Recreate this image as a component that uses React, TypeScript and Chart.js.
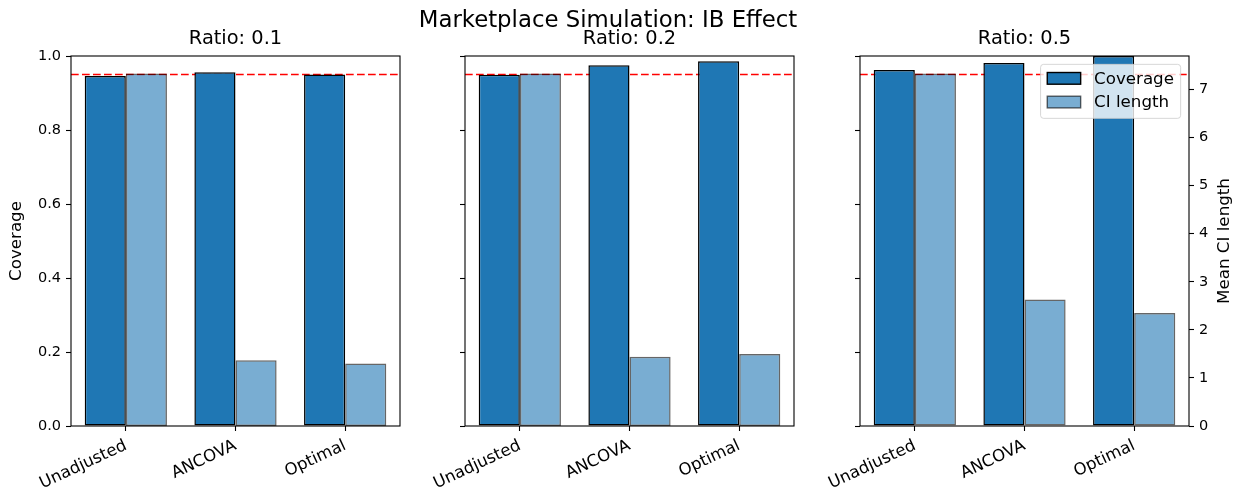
import React, { useEffect, useRef } from 'react';
import { Chart, registerables } from 'chart.js';

Chart.register(...registerables);

// ---------- data ----------
const categories = ['Unadjusted', 'ANCOVA', 'Optimal'];
const seriesNames = ['Coverage', 'CI length'];
const panelTitles = ['Ratio: 0.1', 'Ratio: 0.2', 'Ratio: 0.5'];
const coverageRatio01 = [0.946, 0.956, 0.950];
const coverageRatio02 = [0.949, 0.975, 0.986];
const coverageRatio05 = [0.962, 0.981, 1.0];
const ciLengthRatio01 = [7.33, 1.37, 1.30];
const ciLengthRatio02 = [7.33, 1.44, 1.50];
const ciLengthRatio05 = [7.33, 2.63, 2.35];
const nominalCoverage = 0.95;
const figureTitle = 'Marketplace Simulation: IB Effect';
const leftAxisTitle = 'Coverage';
const rightAxisTitle = 'Mean CI length';

// ---------- layout / style ----------
const W = 1236;
const H = 488;
const PLOT_TOP = 56;
const PLOT_BOTTOM = 426;
const FAMILY = "'DejaVu Sans', sans-serif";
const BLUE = '#1f77b4';
const BLUE_A = 'rgba(31,119,180,0.6)';
const EDGE_A = 'rgba(0,0,0,0.6)';

const ciMax = Math.max(...ciLengthRatio01, ...ciLengthRatio02, ...ciLengthRatio05) * 1.05;

const panels = [
  { left: 71, right: 400, coverage: coverageRatio01, ci: ciLengthRatio01, title: panelTitles[0], leftLabels: true, rightAxis: false, legend: false, suptitle: false },
  { left: 465, right: 794, coverage: coverageRatio02, ci: ciLengthRatio02, title: panelTitles[1], leftLabels: false, rightAxis: false, legend: false, suptitle: true },
  { left: 860, right: 1189, coverage: coverageRatio05, ci: ciLengthRatio05, title: panelTitles[2], leftLabels: false, rightAxis: true, legend: true, suptitle: false },
];

const decor = {
  id: 'decor',
  beforeDatasetsDraw(chart: any, _a: any, o: any) {
    const { ctx, chartArea: ca, scales } = chart;
    const y = scales.y.getPixelForValue(o.refValue);
    ctx.save();
    ctx.beginPath();
    ctx.setLineDash([7.7, 3.3]);
    ctx.strokeStyle = '#ff0000';
    ctx.lineWidth = 1.5;
    ctx.moveTo(ca.left, y);
    ctx.lineTo(ca.right, y);
    ctx.stroke();
    ctx.restore();
  },
  afterDraw(chart: any, _a: any, o: any) {
    const { ctx, chartArea: ca } = chart;
    ctx.save();
    // frame
    ctx.strokeStyle = '#000';
    ctx.lineWidth = 1.1;
    ctx.strokeRect(ca.left, ca.top, ca.right - ca.left, ca.bottom - ca.top);
    ctx.fillStyle = '#000';
    // panel title
    ctx.font = `19.4px ${FAMILY}`;
    ctx.textAlign = 'center';
    ctx.textBaseline = 'alphabetic';
    ctx.fillText(o.title, (ca.left + ca.right) / 2, 44);
    if (o.suptitle) {
      ctx.font = `22.8px ${FAMILY}`;
      ctx.fillText(o.suptitleText, 608, 27);
    }
    const midY = (ca.top + ca.bottom) / 2;
    ctx.font = `16.7px ${FAMILY}`;
    ctx.textBaseline = 'middle';
    if (o.leftTitle) {
      ctx.save();
      ctx.translate(17, midY);
      ctx.rotate(-Math.PI / 2);
      ctx.fillText(o.leftTitle, 0, 0);
      ctx.restore();
    }
    if (o.rightTitle) {
      ctx.save();
      ctx.translate(1225, midY);
      ctx.rotate(-Math.PI / 2);
      ctx.fillText(o.rightTitle, 0, 0);
      ctx.restore();
    }
    if (o.legend) {
      const fs = 16.7;
      ctx.font = `${fs}px ${FAMILY}`;
      const ds = chart.data.datasets;
      const tw = Math.max(...ds.map((d: any) => ctx.measureText(d.label).width));
      const pad = 0.4 * fs;
      const hl = 2 * fs;
      const htp = 0.8 * fs;
      const bw = pad + hl + htp + tw + pad;
      const rowH = 23.7;
      const bh = 54;
      const bx = ca.right - 0.5 * fs - bw;
      const by = ca.top + 0.5 * fs;
      ctx.beginPath();
      ctx.roundRect(bx, by, bw, bh, 3);
      ctx.fillStyle = 'rgba(255,255,255,0.8)';
      ctx.fill();
      ctx.strokeStyle = 'rgba(204,204,204,0.8)';
      ctx.lineWidth = 1;
      ctx.stroke();
      ds.forEach((d: any, i: number) => {
        const cy = by + 14 + i * rowH;
        const ph = 0.7 * fs;
        ctx.fillStyle = '#fff';
        ctx.fillRect(bx + pad, cy - ph / 2, hl, ph);
        ctx.fillStyle = d.backgroundColor;
        ctx.fillRect(bx + pad, cy - ph / 2, hl, ph);
        ctx.strokeStyle = d.borderColor;
        ctx.lineWidth = 1.4;
        ctx.strokeRect(bx + pad, cy - ph / 2, hl, ph);
        ctx.fillStyle = '#000';
        ctx.textAlign = 'left';
        ctx.textBaseline = 'middle';
        ctx.fillText(d.label, bx + pad + hl + htp, cy + 1);
      });
    }
    ctx.restore();
  },
};

function tickGrid() {
  return {
    display: true,
    drawOnChartArea: false,
    drawTicks: true,
    tickLength: 5,
    tickWidth: 1.1,
    tickColor: '#000',
    offset: false,
  };
}

function Panel({ p }: { p: any }) {
  const ref = useRef<HTMLCanvasElement | null>(null);
  useEffect(() => {
    if (!ref.current) return;
    const yW = p.leftLabels ? p.left : 10;
    const chart = new Chart(ref.current, {
      type: 'bar',
      data: {
        labels: categories,
        datasets: [
          {
            label: seriesNames[0],
            data: p.coverage,
            yAxisID: 'y',
            backgroundColor: BLUE,
            borderColor: '#000',
            borderWidth: 1.5,
            borderSkipped: false,
            categoryPercentage: 0.75,
            barPercentage: 1,
          },
          {
            label: seriesNames[1],
            data: p.ci,
            yAxisID: 'y1',
            backgroundColor: BLUE_A,
            borderColor: EDGE_A,
            borderWidth: 1.5,
            borderSkipped: false,
            categoryPercentage: 0.75,
            barPercentage: 1,
          },
        ],
      },
      options: {
        responsive: false,
        animation: false,
        events: [],
        layout: {
          padding: {
            left: p.left - yW,
            right: p.rightAxis ? 0 : W - p.right,
            top: PLOT_TOP,
            bottom: 0,
          },
        },
        plugins: {
          legend: { display: false },
          tooltip: { enabled: false },
          title: { display: false },
          decor: {
            refValue: nominalCoverage,
            title: p.title,
            suptitle: p.suptitle,
            suptitleText: figureTitle,
            leftTitle: p.leftLabels ? leftAxisTitle : '',
            rightTitle: p.rightAxis ? rightAxisTitle : '',
            legend: p.legend,
          },
        } as any,
        scales: {
          x: {
            type: 'category',
            offset: true,
            grid: tickGrid(),
            border: { display: false },
            ticks: {
              autoSkip: false,
              minRotation: 25,
              maxRotation: 25,
              padding: 5,
              color: '#000',
              font: { family: FAMILY, size: 16.5 },
            },
            afterFit: (s: any) => { s.height = H - PLOT_BOTTOM; },
          },
          y: {
            type: 'linear',
            position: 'left',
            min: 0,
            max: 1,
            grid: tickGrid(),
            border: { display: false },
            ticks: {
              display: p.leftLabels,
              stepSize: 0.2,
              includeBounds: false,
              padding: 5,
              color: '#000',
              font: { family: FAMILY, size: 14.5 },
              callback: (v: any) => Number(v).toFixed(1),
            },
            afterFit: (s: any) => { s.width = yW; },
          },
          y1: {
            type: 'linear',
            position: 'right',
            display: p.rightAxis,
            min: 0,
            max: ciMax,
            grid: tickGrid(),
            border: { display: false },
            ticks: {
              stepSize: 1,
              includeBounds: false,
              padding: 5,
              color: '#000',
              font: { family: FAMILY, size: 14.5 },
              callback: (v: any) => String(Math.round(Number(v))),
            },
            afterFit: (s: any) => { s.width = p.rightAxis ? W - p.right : 0; },
          },
        },
      } as any,
      plugins: [decor as any],
    });
    return () => chart.destroy();
  }, []);
  return (
    <canvas
      ref={ref}
      width={W}
      height={H}
      style={{ position: 'absolute', left: 0, top: 0, width: W, height: H }}
    />
  );
}

export default function App() {
  return (
    <div style={{ position: 'fixed', left: 0, top: 0, width: W, height: H, background: '#fff' }}>
      {panels.map((p, i) => (
        <Panel key={i} p={p} />
      ))}
    </div>
  );
}
